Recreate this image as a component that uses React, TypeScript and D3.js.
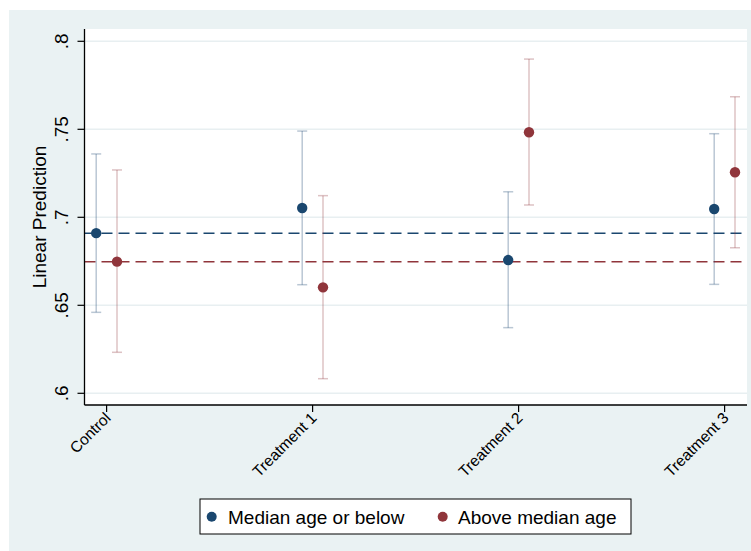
import React from "react";
import * as d3 from "d3";

const categories = ["Control", "Treatment 1", "Treatment 2", "Treatment 3"];
const seriesNames = ["Median age or below", "Above median age"];
const lowEst = [0.691, 0.7053, 0.6757, 0.7047];
const lowLo = [0.646, 0.6617, 0.6373, 0.6619];
const lowHi = [0.736, 0.749, 0.7145, 0.7475];
const highEst = [0.6748, 0.6602, 0.7483, 0.7256];
const highLo = [0.6233, 0.6083, 0.707, 0.6827];
const highHi = [0.7269, 0.7123, 0.7899, 0.7685];
const yTicks = [0.6, 0.65, 0.7, 0.75, 0.8];
const yTickLabels = [".6", ".65", ".7", ".75", ".8"];

const W = 751;
const H = 551;
const left = 84.5;
const right = 747;
const top = 29;
const bottom = 405;
const FONT = "Arial, 'Liberation Sans', Helvetica, sans-serif";
const BLUE = "#1a476f";
const RED = "#90353b";
const BG = "#eaf2f3";

export default function App() {
  const y = d3.scaleLinear().domain([0.6, 0.8]).range([393.3, 41.3]);
  const x = d3.scaleLinear().domain([0, 3]).range([106.6, 724.6]);
  const off = 10.4;
  const series = [
    { name: seriesNames[0], est: lowEst, lo: lowLo, hi: lowHi, color: BLUE, dx: -off },
    { name: seriesNames[1], est: highEst, lo: highLo, hi: highHi, color: RED, dx: off },
  ];
  return (
    <svg width={W} height={H} style={{ position: "absolute", left: 0, top: 0 }} fontFamily={FONT}>
      <rect x={0} y={0} width={W} height={H} fill="#ffffff" />
      <rect x={9} y={10} width={W - 9} height={H - 10} fill={BG} />
      <rect x={left} y={top} width={right - left} height={bottom - top} fill="#ffffff" />
      {yTicks.map((t) => (
        <line key={"g" + t} x1={left} x2={right} y1={y(t)} y2={y(t)} stroke="#e8eff1" strokeWidth={1.5} />
      ))}
      {/* reference lines */}
      <line x1={left} x2={right} y1={y(lowEst[0])} y2={y(lowEst[0])} stroke={BLUE} strokeWidth={1.5} strokeDasharray="11,6" />
      <line x1={left} x2={right} y1={y(highEst[0])} y2={y(highEst[0])} stroke={RED} strokeWidth={1.5} strokeDasharray="11,6" />
      {series.map((s) =>
        categories.map((c, i) => {
          const cx = x(i) + s.dx;
          return (
            <g key={s.name + c}>
              <g stroke={s.color} strokeOpacity={0.3} strokeWidth={1.5}>
                <line x1={cx} x2={cx} y1={y(s.lo[i])} y2={y(s.hi[i])} />
                <line x1={cx - 5} x2={cx + 5} y1={y(s.lo[i])} y2={y(s.lo[i])} />
                <line x1={cx - 5} x2={cx + 5} y1={y(s.hi[i])} y2={y(s.hi[i])} />
              </g>
              <circle cx={cx} cy={y(s.est[i])} r={5.2} fill={s.color} />
            </g>
          );
        })
      )}
      {/* axes */}
      <line x1={left} x2={left} y1={top} y2={bottom} stroke="#000" strokeWidth={1.3} />
      <line x1={left} x2={right} y1={bottom} y2={bottom} stroke="#000" strokeWidth={1.3} />
      {yTicks.map((t, i) => (
        <g key={"t" + t}>
          <line x1={left - 7} x2={left} y1={y(t)} y2={y(t)} stroke="#000" strokeWidth={1.2} />
          <text
            transform={`translate(68,${y(t)}) rotate(-90)`}
            textAnchor="middle"
            fontSize={19}
            fill="#000"
          >
            {yTickLabels[i]}
          </text>
        </g>
      ))}
      <text
        transform={`translate(46,${(top + bottom) / 2}) rotate(-90)`}
        textAnchor="middle"
        fontSize={19}
        fill="#000"
      >
        Linear Prediction
      </text>
      {categories.map((c, i) => (
        <g key={"x" + c}>
          <line x1={x(i)} x2={x(i)} y1={bottom} y2={bottom + 7} stroke="#000" strokeWidth={1.2} />
          <text
            transform={`translate(${x(i) + 5},${bottom + 14}) rotate(-45)`}
            textAnchor="end"
            fontSize={15.5}
            fill="#000"
          >
            {c}
          </text>
        </g>
      ))}
      {/* legend */}
      <rect x={200} y={499} width={431} height={35} fill="#fff" stroke="#000" strokeWidth={1} />
      <circle cx={211.7} cy={516.7} r={5} fill={BLUE} />
      <text x={228} y={523.5} fontSize={19} fill="#000">{seriesNames[0]}</text>
      <circle cx={442.7} cy={516.7} r={5} fill={RED} />
      <text x={458} y={523.5} fontSize={19} fill="#000">{seriesNames[1]}</text>
    </svg>
  );
}
